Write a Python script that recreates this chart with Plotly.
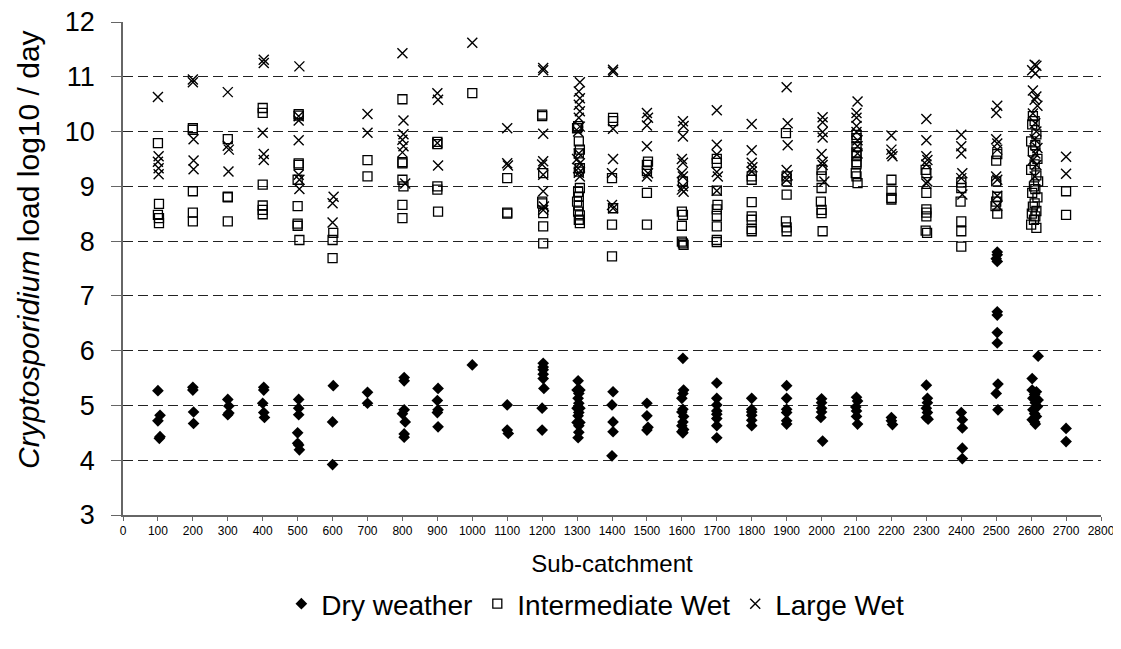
import plotly.graph_objects as go

# ---------------- data ----------------
dry_x = [100, 100, 106, 106, 104,
         200, 200, 202, 202,
         300, 303, 303, 300,
         403, 403, 400, 403, 405,
         503, 503, 503, 500, 500, 503, 505,
         602, 600, 600,
         700, 700,
         805, 805, 805, 800, 808, 805, 805,
         902, 900, 902, 900, 902,
         1000,
         1100, 1100, 1103,
         1203, 1203, 1203, 1203, 1203, 1205, 1200, 1200,
         1303, 1300, 1308, 1305, 1303, 1305, 1300, 1308, 1305, 1303, 1300, 1308, 1305, 1305, 1303,
         1403, 1400, 1403, 1403, 1400,
         1500, 1500, 1500, 1503,
         1603, 1605, 1603, 1600, 1603, 1600, 1605, 1603, 1600, 1605, 1600, 1603,
         1700, 1700, 1700, 1700, 1700, 1700, 1700, 1700,
         1800, 1800, 1800, 1800, 1800, 1800,
         1900, 1900, 1900, 1900, 1900, 1900,
         2000, 2000, 2000, 2000, 1998, 2003,
         2100, 2103, 2098, 2100, 2100, 2103,
         2200, 2200, 2203,
         2300, 2303, 2303, 2300, 2303, 2300, 2305,
         2400, 2403, 2403, 2403, 2403,
         2503, 2503, 2500, 2503, 2503, 2503, 2503, 2503, 2505, 2500, 2505,
         2620, 2603, 2603, 2615, 2610, 2605, 2620, 2612, 2618, 2605, 2610, 2615, 2603, 2610, 2612,
         2700, 2700]
dry_y = [5.27, 4.72, 4.82, 4.43, 4.40,
         5.33, 5.28, 4.88, 4.67,
         5.11, 4.99, 4.86, 4.83,
         5.33, 5.28, 5.04, 4.87, 4.78,
         5.11, 4.95, 4.83, 4.50, 4.31, 4.28, 4.19,
         5.36, 4.70, 3.92,
         5.24, 5.04,
         5.51, 5.45, 4.92, 4.85, 4.70, 4.48, 4.42,
         5.31, 5.09, 4.92, 4.87, 4.61,
         5.74,
         5.01, 4.55, 4.49,
         5.77, 5.70, 5.65, 5.57, 5.49, 5.31, 4.95, 4.55,
         5.45, 5.28, 5.28, 5.22, 5.13, 5.04, 4.95, 4.95, 4.87, 4.81, 4.69, 4.69, 4.63, 4.51, 4.41,
         5.25, 5.01, 4.70, 4.52, 4.08,
         5.04, 4.81, 4.55, 4.60,
         5.86, 5.28, 5.22, 5.13, 4.93, 4.88, 4.80, 4.70, 4.63, 4.56, 4.52, 4.50,
         5.41, 5.13, 5.01, 4.90, 4.84, 4.76, 4.63, 4.41,
         5.13, 4.93, 4.88, 4.82, 4.73, 4.63,
         5.36, 5.13, 4.93, 4.87, 4.72, 4.66,
         5.12, 5.05, 4.95, 4.88, 4.78, 4.35,
         5.15, 5.08, 4.97, 4.90, 4.80, 4.66,
         4.78, 4.72, 4.65,
         5.37, 5.13, 5.05, 4.95, 4.87, 4.78, 4.75,
         4.87, 4.74, 4.59, 4.22, 4.03,
         7.80, 7.75, 7.68, 7.63, 6.71, 6.65, 6.33, 6.14, 5.39, 5.22, 4.92,
         5.90, 5.49, 5.28, 5.25, 5.20, 5.13, 5.10, 5.05, 4.98, 4.92, 4.85, 4.80, 4.74, 4.70, 4.66,
         4.58, 4.34]

inter_x = [100, 103, 100, 103, 103,
           200, 200, 200, 200, 200,
           300, 300, 300, 300,
           400, 400, 400, 400, 400, 400,
           503, 503, 503, 503, 500, 500, 500, 500, 505,
           602, 600, 600,
           700, 700,
           800, 800, 800, 800, 803, 800, 800,
           900, 900, 900, 900, 902,
           1000,
           1100, 1100, 1100,
           1200, 1200, 1203, 1200, 1200, 1203, 1203, 1203,
           1303, 1300, 1305, 1308, 1305, 1308, 1305, 1308, 1303, 1305, 1300, 1305, 1303, 1308, 1305, 1308,
           1403, 1403, 1400, 1403, 1400, 1400,
           1503, 1500, 1500, 1500, 1500,
           1603, 1600, 1603, 1600, 1600, 1603, 1605,
           1700, 1700, 1700, 1702, 1700, 1700, 1700, 1700, 1700,
           1800, 1800, 1800, 1800, 1800, 1800, 1800,
           1898, 1900, 1900, 1900, 1898, 1900, 1900,
           2000, 2000, 2000, 1998, 2000, 2000, 2003,
           2100, 2100, 2100, 2100, 2100, 2100, 2100, 2098, 2100, 2103,
           2200, 2200, 2200, 2200,
           2298, 2300, 2300, 2300, 2300, 2300, 2298, 2302,
           2400, 2400, 2398, 2400, 2400, 2400,
           2503, 2500, 2500, 2503, 2500, 2498, 2503,
           2605, 2610, 2603, 2615, 2600, 2612, 2605, 2618, 2610, 2600, 2615, 2620,
           2608, 2612, 2603, 2618, 2610, 2605, 2615, 2602, 2612, 2608, 2600, 2615,
           2700, 2700]
inter_y = [9.79, 8.68, 8.48, 8.42, 8.33,
           10.06, 10.03, 8.91, 8.52, 8.36,
           9.86, 8.81, 8.80, 8.36,
           10.43, 10.34, 9.03, 8.65, 8.57, 8.49,
           10.32, 10.29, 9.42, 9.39, 9.12, 8.64, 8.32, 8.28, 8.02,
           8.15, 8.02, 7.69,
           9.48, 9.18,
           10.59, 9.44, 9.42, 9.12, 9.00, 8.66, 8.42,
           9.81, 9.77, 9.00, 8.94, 8.54,
           10.70,
           9.15, 8.52, 8.50,
           10.31, 10.28, 9.24, 8.72, 8.69, 8.51, 8.27, 7.96,
           10.10, 10.06, 9.82, 9.67, 9.60, 9.33, 9.27, 8.97, 8.90, 8.81, 8.72, 8.65, 8.54, 8.47, 8.39, 8.33,
           10.25, 10.19, 9.15, 8.60, 8.30, 7.72,
           9.45, 9.39, 9.28, 8.88, 8.30,
           9.09, 8.54, 8.48, 8.28, 7.99, 7.96, 7.93,
           9.50, 9.43, 8.92, 8.66, 8.58, 8.46, 8.27, 8.02, 7.98,
           9.18, 9.12, 8.71, 8.45, 8.39, 8.22, 8.18,
           9.97, 9.18, 9.09, 8.85, 8.36, 8.25, 8.18,
           9.30, 9.18, 8.97, 8.72, 8.57, 8.51, 8.18,
           9.94, 9.88, 9.73, 9.62, 9.55, 9.44, 9.40, 9.24, 9.18, 9.06,
           9.12, 8.92, 8.79, 8.76,
           9.30, 9.24, 8.88, 8.58, 8.52, 8.45, 8.19, 8.15,
           9.07, 8.97, 8.72, 8.36, 8.18, 7.90,
           9.59, 9.47, 9.09, 8.81, 8.72, 8.64, 8.50,
           10.28, 10.19, 10.13, 9.95, 9.82, 9.75, 9.64, 9.50, 9.40, 9.30, 9.20, 9.09,
           9.00, 8.95, 8.88, 8.80, 8.69, 8.63, 8.55, 8.50, 8.45, 8.39, 8.30, 8.24,
           8.91, 8.48]

large_x = [100, 102, 100, 102, 102,
           200, 200, 202, 202, 202,
           300, 300, 303, 302,
           403, 403, 400, 403, 403,
           505, 503, 503, 503, 503, 505, 505,
           603, 600, 600,
           700, 700,
           800, 803, 803, 800, 803, 800, 808,
           900, 902, 900, 902,
           1000,
           1100, 1100, 1102,
           1203, 1203, 1203, 1203, 1200, 1203, 1203, 1205, 1203,
           1308, 1305, 1308, 1305, 1308, 1305, 1308, 1303, 1305, 1300, 1308, 1303, 1305, 1308,
           1403, 1403, 1403, 1403, 1400, 1400, 1403,
           1500, 1503, 1500, 1500, 1503, 1500,
           1603, 1605, 1603, 1600, 1603, 1600, 1603, 1603, 1600, 1605,
           1700, 1700, 1700, 1700, 1703, 1700,
           1800, 1800, 1800, 1802, 1800,
           1900, 1903, 1903, 1900, 1903, 1900,
           2003, 2003, 2003, 2003, 2000, 2003, 2003, 2008,
           2103, 2100, 2100, 2100, 2100, 2103, 2103, 2103,
           2200, 2200, 2200, 2203,
           2300, 2300, 2300, 2303, 2300, 2303, 2300,
           2400, 2400, 2400, 2403, 2400, 2403,
           2503, 2500, 2500, 2503, 2503, 2500, 2503, 2503, 2503,
           2610, 2615, 2603, 2612, 2605, 2615, 2610, 2618, 2605, 2612,
           2615, 2610, 2618, 2612, 2605, 2615, 2610,
           2700, 2700]
large_y = [10.63, 9.55, 9.45, 9.33, 9.22,
           10.95, 10.90, 9.86, 9.47, 9.31,
           10.72, 9.74, 9.67, 9.27,
           11.31, 11.25, 9.98, 9.59, 9.48,
           11.19, 10.28, 10.20, 9.84, 9.21, 9.12, 8.95,
           8.81, 8.69, 8.34,
           10.32, 9.98,
           11.43, 10.20, 9.95, 9.85, 9.73, 9.62, 9.05,
           10.70, 10.58, 9.79, 9.38,
           11.62,
           10.06, 9.42, 9.38,
           11.16, 11.12, 9.96, 9.46, 9.40, 9.21, 8.91, 8.63, 8.57,
           10.90, 10.73, 10.61, 10.49, 10.37, 10.25, 10.09, 10.00, 9.60, 9.50, 9.42, 9.33, 9.25, 9.18,
           11.13, 11.09, 10.05, 9.50, 9.24, 8.66, 8.60,
           10.34, 10.25, 10.11, 9.73, 9.24, 9.18,
           10.19, 10.10, 9.91, 9.50, 9.43, 9.24, 9.18, 9.00, 8.94, 8.90,
           10.39, 9.76, 9.58, 9.26, 9.18, 8.92,
           10.14, 9.66, 9.43, 9.35, 9.27,
           10.81, 10.15, 9.75, 9.30, 9.20, 9.12,
           10.26, 10.17, 9.99, 9.89, 9.59, 9.45, 9.39, 9.09,
           10.55, 10.34, 10.25, 10.10, 9.99, 9.84, 9.73, 9.60,
           9.93, 9.67, 9.59, 9.55,
           10.23, 9.84, 9.55, 9.48, 9.40, 9.09, 9.05,
           9.94, 9.73, 9.60, 9.24, 9.15, 8.85,
           10.47, 10.34, 9.86, 9.78, 9.67, 9.18, 9.12, 8.83, 8.64,
           11.22, 11.20, 11.12, 11.06, 10.75, 10.64, 10.58, 10.47, 10.33, 10.15,
           10.00, 9.86, 9.70, 9.60, 9.48, 9.39, 9.18,
           9.54, 9.23]

x_ticks = list(range(0, 2900, 100))
y_ticks = list(range(3, 13))

FONT = "Liberation Sans, Arial, sans-serif"

# plot area in figure pixels (page body adds an 8px offset)
ML, MT, PW, PH = 115, 14, 978, 493

fig = go.Figure()
fig.add_trace(go.Scatter(
    x=dry_x, y=dry_y, mode="markers", name="Dry weather",
    marker=dict(symbol="diamond", size=9, color="black", line=dict(width=0)),
))
fig.add_trace(go.Scatter(
    x=inter_x, y=inter_y, mode="markers", name="Intermediate Wet",
    marker=dict(symbol="square-open", size=9, color="black", line=dict(width=1.3)),
))
fig.add_trace(go.Scatter(
    x=large_x, y=large_y, mode="markers", name="Large Wet",
    marker=dict(symbol="x-thin-open", size=10, color="black", line=dict(width=1.4)),
))

fig.update_layout(
    width=1121, height=649,
    paper_bgcolor="white", plot_bgcolor="white",
    margin=dict(l=ML, r=1121 - ML - PW, t=MT, b=649 - MT - PH),
    font=dict(family=FONT, color="black"),
    showlegend=True,
    legend=dict(orientation="h", x=0.483, xanchor="center", y=-0.1805, yanchor="middle",
                font=dict(size=28, family=FONT), itemwidth=30, tracegroupgap=0),
    xaxis=dict(
        range=[0, 2800], tickmode="array", tickvals=x_ticks, ticktext=[str(v) for v in x_ticks],
        showline=True, linecolor="#666", linewidth=1.5, automargin=False,
        ticks="outside", ticklen=4, tickcolor="#666", showgrid=False, zeroline=False,
        ticklabeloverflow="allow",
        tickfont=dict(size=12, family="Liberation Sans Narrow, " + FONT),
        title=dict(text="Sub-catchment", font=dict(size=24), standoff=18),
    ),
    yaxis=dict(
        range=[3, 12], tickmode="array", tickvals=y_ticks,
        showline=True, linecolor="#666", linewidth=1.5, automargin=False,
        ticks="outside", ticklen=10, tickcolor="#666", ticklabelstandoff=11,
        ticklabeloverflow="allow",
        showgrid=True, gridcolor="#222", griddash="10px,5px", gridwidth=1, zeroline=False,
        tickfont=dict(size=27),
    ),
    annotations=[dict(
        text="<i>Cryptosporidium</i> load log10 / day",
        xref="paper", yref="paper", x=(20 - ML) / PW, y=(MT + PH - 242) / PH,
        xanchor="center", yanchor="middle", textangle=-90, showarrow=False,
        font=dict(size=30, family=FONT),
    )],
)

fig.write_html("out.html")
